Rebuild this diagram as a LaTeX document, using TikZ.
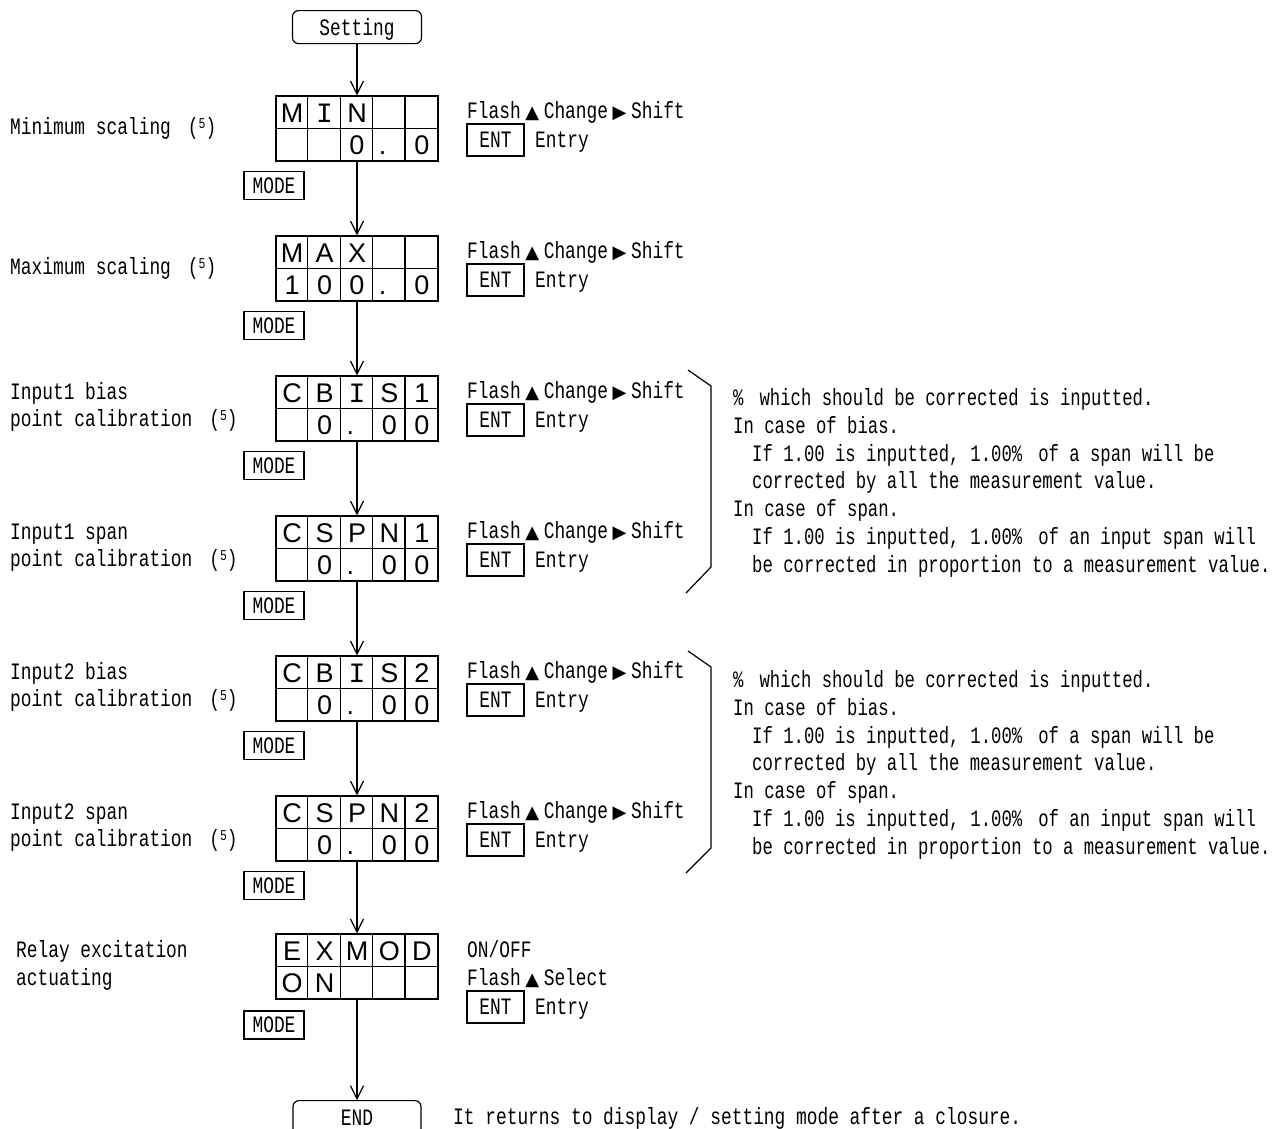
\documentclass[tikz,border=0pt]{standalone}
\usepackage{fontspec}
\usetikzlibrary{arrows.meta}
\newfontfamily\gth[FakeStretch=0.76]{Liberation Mono}
\newfontfamily\gthn[FakeStretch=0.735]{Liberation Mono}
\newfontfamily\dspf{Liberation Sans}
\newfontfamily\monoI{Liberation Mono}
\newfontfamily\symf{DejaVu Sans}
\newcommand\gsize{\fontsize{23.5}{28}\selectfont}
\newcommand\tri{\makebox[23pt]{\symf\fontsize{18}{18}\selectfont ▲}}
\newcommand\rtri{\makebox[23pt]{\symf\fontsize{18}{18}\selectfont ▶}}
\newcommand\supf{\hspace{17pt}(\raisebox{6pt}{\fontsize{15}{15}\selectfont 5})}
\newcommand\bigI{{\monoI\fontsize{28}{28}\selectfont I}}
\newcommand\dotc{\makebox[21pt][l]{.}}
\newcommand\wpct{\makebox[16pt][l]{\%}}
\newcommand\wcom{,\hspace{11pt}}
\tikzset{
  txt/.style={font=\gth\gsize, inner sep=0pt, anchor=base west},
  note/.style={font=\gthn\gsize, inner sep=0pt, anchor=base west},
  box/.style={draw, line width=1.2pt, inner sep=0pt},
  dl/.style={font=\dspf\fontsize{27}{27}\selectfont, inner sep=0pt, anchor=base},
  entbox/.style={draw, line width=2.2pt, inner sep=0pt, minimum width=57pt, minimum height=32pt, font=\gth\gsize},
  modebox/.style={box, minimum width=60pt, minimum height=28pt, font=\gth\gsize},
  termbox/.style={box, rounded corners=6pt, anchor=north, font=\gth\gsize, inner ysep=8.5pt, text height=16pt},
  arr/.style={line width=1.2pt, -{Straight Barb[length=13pt,width=13pt]}},
  gridline/.style={line width=1.2pt}
}
\newcommand\disp[4]{%
  \node[box, minimum width=162pt, minimum height=65pt] (#1) at (357,#2+32.5) {};
  \draw[gridline] (#1.west) -- (#1.east);
  \foreach \k in {1,2,3,4} \draw[gridline] ([xshift=\k*32.4pt]#1.north west) -- ([xshift=\k*32.4pt]#1.south west);
  \foreach \c [count=\i] in {#3} \node[dl] (#1-u\i) at ({276+32.4*(\i-0.5)},#2+26) {\c};
  \foreach \c [count=\i] in {#4} \node[dl] (#1-l\i) at ({276+32.4*(\i-0.5)},#2+58.5) {\c};
}
\newcommand\ctrl[2]{%
  \node[txt] (#1-f) at (467,#2+22.5) {Flash\tri Change\rtri Shift};
  \node[entbox] (#1-e) at (495.5,#2+44) {ENT};
  \node[txt] (#1-r) at (535,#2+51.5) {Entry};
  \node[modebox] (#1-m) at (274,#2+89.5) {MODE};
}
\begin{document}
\begin{tikzpicture}[x=1pt, y=-1pt]
\useasboundingbox (0,0) rectangle (1273,1128);
\clip (0,0) rectangle (1273,1128);

% terminals
\node[termbox, minimum width=129pt, text depth=0pt] (set) at (357,10) {Setting};
\node[termbox, minimum width=128pt, text depth=25pt] (endn) at (357,1100) {END};
\node[txt] (endtxt) at (453,1124) {It returns to display / setting mode after a closure.};

% displays
\disp{d1}{96}{M,\bigI,N,{},{}}{{},{},0,\dotc,0}
\disp{d2}{236}{M,A,X,{},{}}{1,0,0,\dotc,0}
\disp{d3}{376}{C,B,\bigI,S,1}{{},0,\dotc,0,0}
\disp{d4}{516}{C,S,P,N,1}{{},0,\dotc,0,0}
\disp{d5}{656}{C,B,\bigI,S,2}{{},0,\dotc,0,0}
\disp{d6}{796}{C,S,P,N,2}{{},0,\dotc,0,0}
\disp{d7}{934}{E,X,M,O,D}{O,N,{},{},{}}

% controls
\ctrl{c1}{96}
\ctrl{c2}{236}
\ctrl{c3}{376}
\ctrl{c4}{516}
\ctrl{c5}{656}
\ctrl{c6}{796}
\node[txt] (c7-o) at (467,957.5) {ON/OFF};
\node[txt] (c7-f) at (467,985.5) {Flash\tri Select};
\node[entbox] (c7-e) at (495.5,1007) {ENT};
\node[txt] (c7-r) at (535,1014.5) {Entry};
\node[modebox] (c7-m) at (274,1025) {MODE};

% left labels
\node[txt] (l1) at (10,134.5) {Minimum scaling\supf};
\node[txt] (l2) at (10,274.5) {Maximum scaling\supf};
\node[txt] (l3a) at (10,399.5) {Input1 bias};
\node[txt] (l3b) at (10,426.5) {point calibration\supf};
\node[txt] (l4a) at (10,539.5) {Input1 span};
\node[txt] (l4b) at (10,566.5) {point calibration\supf};
\node[txt] (l5a) at (10,679.5) {Input2 bias};
\node[txt] (l5b) at (10,706.5) {point calibration\supf};
\node[txt] (l6a) at (10,819.5) {Input2 span};
\node[txt] (l6b) at (10,846.5) {point calibration\supf};
\node[txt] (l7a) at (16,957.5) {Relay excitation};
\node[txt] (l7b) at (16,985.5) {actuating};

% flow arrows
\draw[arr] (set.south) -- (d1.north);
\draw[arr] (d1.south) -- (d2.north);
\draw[arr] (d2.south) -- (d3.north);
\draw[arr] (d3.south) -- (d4.north);
\draw[arr] (d4.south) -- (d5.north);
\draw[arr] (d5.south) -- (d6.north);
\draw[arr] (d6.south) -- (d7.north);
\draw[arr] (d7.south) -- (endn.north);

% braces
\draw[gridline] (688,370) -- (711,386) -- (711,567) -- (686,593);
\draw[gridline] (688,651) -- (711,667) -- (711,848) -- (686,873);

% notes
\foreach \y/\n in {405.5/a, 687.5/b} {
  \node[note] (n\n1) at (733,\y) {\wpct{} which should be corrected is inputted.};
  \node[note] (n\n2) at (733,\y+27.8) {In case of bias.};
  \node[note] (n\n3) at (752,\y+55.6) {If 1.00 is inputted\wcom 1.00\wpct{} of a span will be};
  \node[note] (n\n4) at (752,\y+83.4) {corrected by all the measurement value.};
  \node[note] (n\n5) at (733,\y+111.2) {In case of span.};
  \node[note] (n\n6) at (752,\y+139) {If 1.00 is inputted\wcom 1.00\wpct{} of an input span will};
  \node[note] (n\n7) at (752,\y+166.8) {be corrected in proportion to a measurement value.};
}
\end{tikzpicture}
\end{document}
